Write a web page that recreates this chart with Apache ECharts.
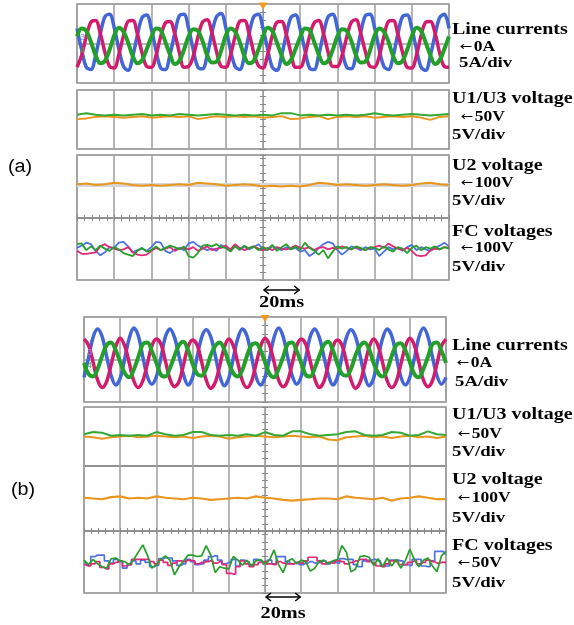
<!DOCTYPE html>
<html><head><meta charset="utf-8">
<script src="https://cdn.jsdelivr.net/npm/echarts@6/dist/echarts.min.js"></script>
<style>html,body{margin:0;padding:0;background:#fff}#c{width:574px;height:625px}</style>
</head><body><div id="c"></div>
<script>
// ---------- sample times (ms, trigger at 0) ----------
const timeFine = [-100,-97.5,-95,-92.5,-90,-87.5,-85,-82.5,-80,-77.5,-75,-72.5,-70,-67.5,-65,-62.5,-60,-57.5,-55,-52.5,-50,-47.5,-45,-42.5,-40,-37.5,-35,-32.5,-30,-27.5,-25,-22.5,-20,-17.5,-15,-12.5,-10,-7.5,-5,-2.5,0,2.5,5,7.5,10,12.5,15,17.5,20,22.5,25,27.5,30,32.5,35,37.5,40,42.5,45,47.5,50,52.5,55,57.5,60,62.5,65,67.5,70,72.5,75,77.5,80,82.5,85,87.5,90,92.5,95,97.5,100];
const timeCoarse = [-100,-95,-90,-85,-80,-75,-70,-65,-60,-55,-50,-45,-40,-35,-30,-25,-20,-15,-10,-5,0,5,10,15,20,25,30,35,40,45,50,55,60,65,70,75,80,85,90,95,100];

// ---------- (a) line currents, A ----------
const iaBlue = [1.9,-0.8,-3.0,-3.3,-1.5,1.2,3.4,3.7, 2.0,-0.7,-2.9,-3.4,-1.6,1.1,3.3,3.6, 1.8,-0.9,-3.1,-3.3,-1.4,1.2,3.5,3.7, 1.9,-0.8,-3.0,-3.2,-1.5,1.3,3.4,3.8, 2.0,-0.8,-2.9,-3.3,-1.6,1.2,3.4,3.7, 1.9,-0.7,-3.0,-3.4,-1.5,1.1,3.3,3.6, 1.8,-0.8,-3.1,-3.3,-1.4,1.2,3.4,3.7, 1.9,-0.9,-3.0,-3.2,-1.5,1.3,3.5,3.7, 2.0,-0.8,-2.9,-3.3,-1.6,1.2,3.4,3.6, 1.9,-0.7,-3.0,-3.4,-1.5,1.1,3.3,3.7, 1.9];
const iaMagenta = [-3.0,-1.5,0.9,2.7,2.9,1.3,-1.1,-2.9, -3.1,-1.4,1.0,2.8,2.9,1.2,-1.2,-2.9, -3.0,-1.5,0.9,2.6,2.8,1.3,-1.1,-3.0, -2.9,-1.6,0.8,2.7,3.0,1.4,-1.0,-2.9, -3.0,-1.5,0.9,2.8,2.9,1.3,-1.1,-2.8, -3.1,-1.4,1.0,2.7,2.8,1.2,-1.2,-3.0, -3.0,-1.5,0.9,2.6,2.9,1.3,-1.1,-2.9, -2.9,-1.5,0.8,2.7,3.0,1.3,-1.0,-2.9, -3.0,-1.6,0.9,2.8,2.9,1.2,-1.1,-3.0, -3.1,-1.5,1.0,2.7,2.8,1.3,-1.2,-2.9, -3.0];
const iaGreen = [0.9,1.9,1.6,0.2,-1.5,-2.5,-2.2,-0.8, 1.0,2.0,1.5,0.1,-1.6,-2.5,-2.1,-0.7, 0.8,1.9,1.7,0.2,-1.4,-2.6,-2.2,-0.8, 0.9,1.8,1.6,0.3,-1.5,-2.4,-2.3,-0.9, 1.0,1.9,1.5,0.2,-1.6,-2.5,-2.2,-0.8, 0.9,2.0,1.6,0.1,-1.5,-2.6,-2.1,-0.7, 0.8,1.9,1.7,0.2,-1.4,-2.5,-2.2,-0.8, 0.9,1.8,1.6,0.3,-1.5,-2.4,-2.3,-0.9, 1.0,1.9,1.5,0.2,-1.6,-2.5,-2.2,-0.8, 0.9,2.0,1.6,0.1,-1.5,-2.6,-2.1,-0.7, 0.9];

// ---------- (a) voltages, V ----------
const u1a = [49.7,49.8,50.0,50.1,50.0,49.9,50.0,50.1,49.9,50.0,50.1,50.0,50.1,49.7,49.9,50.1,50.0,50.1,50.0,50.1,49.9,50.0,50.1,49.7,49.8,50.0,50.1,49.7,50.0,50.1,50.0,50.1,49.9,50.0,50.1,50.0,50.1,49.9,49.6,50.0,50.1];
const u3a = [50.3,50.5,50.3,50.2,50.3,50.2,50.3,50.4,50.2,50.3,50.2,50.4,50.3,50.2,50.3,50.4,50.3,50.2,50.3,50.2,50.3,50.2,50.5,50.5,50.2,50.3,50.2,50.3,50.2,50.3,50.2,50.3,50.5,50.3,50.2,50.3,50.4,50.3,50.2,50.3,50.4];
const u2a = [100.1,100.2,100.0,100.1,100.3,100.2,100.0,99.9,100.0,99.9,100.0,100.1,100.0,100.3,100.2,100.1,99.9,100.0,100.1,100.0,99.8,99.9,99.8,99.9,99.8,100.0,100.3,100.2,100.0,100.1,100.0,99.9,100.0,100.1,100.0,99.9,100.0,100.2,100.3,100.1,100.0];
const u2aRef = 100;
const fcaBlue = [100.1,100.4,100.8,100.6,99.7,99.1,99.5,100.2,100.1,100.8,100.9,100.3,99.5,99.8,100.0,99.7,100.2,100.9,100.8,99.7,99.4,99.9,100.1,99.8,100.7,100.9,100.4,100.1,99.8,100.0,99.7,100.5,100.1,99.7,100.4,99.8,100.3,99.9,100.2,100.6,100.0,99.8,100.3,100.1,99.8,100.2,99.9,100.1,99.6,99.8,99.0,99.4,100.1,100.6,100.9,100.7,99.8,99.2,99.7,100.3,100.1,99.8,100.2,99.9,100.0,99.0,99.6,100.2,99.9,100.1,99.7,100.2,100.5,99.8,100.2,99.9,99.7,100.1,100.4,100.8,100.3];
const fcaMagenta = [99.7,99.3,99.3,99.4,99.5,100.3,100.6,100.2,100.0,99.8,99.9,100.2,99.5,99.2,99.1,99.2,99.7,100.1,99.8,100.0,100.2,99.7,100.0,100.1,99.9,100.2,99.7,100.0,100.3,99.8,100.0,100.1,100.4,99.9,100.6,100.1,99.8,100.1,100.3,100.0,99.8,100.1,99.8,100.2,100.0,99.9,100.1,100.4,100.1,100.0,100.2,99.8,100.1,100.2,99.9,100.1,100.0,100.3,100.1,99.9,100.2,100.0,99.8,100.1,100.2,100.4,100.1,100.7,100.3,100.0,99.8,100.1,99.7,99.1,99.0,99.1,99.8,100.0,99.9,100.2,100.1];
const fcaGreen = [100.6,100.7,99.8,100.3,99.8,100.4,100.0,99.7,100.2,99.9,99.4,99.2,99.0,99.7,100.1,99.6,99.8,100.3,99.8,100.1,100.4,100.2,99.9,100.3,99.0,98.8,99.4,100.4,100.5,100.3,100.6,100.2,100.1,99.6,100.3,99.9,100.4,100.0,100.3,99.8,100.2,99.9,100.5,99.7,100.2,100.6,99.9,100.3,99.8,100.8,100.1,99.7,99.2,99.8,98.7,99.6,100.3,100.0,100.2,99.9,100.3,100.1,99.8,100.2,100.1,99.8,100.3,99.9,99.6,100.2,100.0,99.4,100.1,100.4,99.8,100.2,100.0,100.3,99.9,100.2,100.0];

// ---------- (b) line currents, A ----------
const ibBlue = [-2.1,0.2,2.6,3.6,2.7,0.4,-1.9,-3.0, -2.2,0.1,2.5,3.7,2.8,0.3,-2.0,-2.9, -2.0,0.2,2.7,3.6,2.6,0.4,-1.8,-3.0, -2.1,0.3,2.6,3.5,2.7,0.5,-1.9,-3.1, -2.2,0.2,2.5,3.6,2.8,0.4,-2.0,-3.0, -2.1,0.1,2.6,3.7,2.7,0.3,-1.9,-2.9, -2.0,0.2,2.7,3.6,2.6,0.4,-1.8,-3.0, -2.1,0.3,2.6,3.5,2.7,0.5,-1.9,-3.1, -2.2,0.2,2.5,3.6,2.8,0.4,-2.0,-3.0, -2.1,0.1,2.6,3.7,2.7,0.3,-1.9,-2.9, -2.1];
const ibMagenta = [2.4,1.7,-0.3,-2.4,-3.3,-2.6,-0.6,1.5, 2.5,1.6,-0.4,-2.5,-3.3,-2.5,-0.5,1.6, 2.4,1.8,-0.2,-2.3,-3.2,-2.6,-0.6,1.5, 2.3,1.7,-0.3,-2.4,-3.4,-2.7,-0.7,1.4, 2.4,1.6,-0.4,-2.5,-3.3,-2.6,-0.6,1.5, 2.5,1.7,-0.3,-2.4,-3.2,-2.5,-0.5,1.6, 2.4,1.8,-0.2,-2.3,-3.3,-2.6,-0.6,1.5, 2.3,1.7,-0.3,-2.4,-3.4,-2.7,-0.7,1.4, 2.4,1.6,-0.4,-2.5,-3.3,-2.6,-0.6,1.5, 2.5,1.7,-0.3,-2.4,-3.2,-2.5,-0.5,1.6, 2.4];
const ibGreen = [-0.4,-1.7,-2.0,-1.1,0.4,1.7,2.0,1.1, -0.3,-1.6,-2.1,-1.2,0.3,1.8,2.0,1.0, -0.4,-1.8,-2.0,-1.0,0.4,1.7,2.1,1.1, -0.5,-1.7,-1.9,-1.1,0.5,1.6,2.0,1.2, -0.4,-1.6,-2.0,-1.2,0.4,1.7,1.9,1.1, -0.3,-1.7,-2.1,-1.1,0.3,1.8,2.0,1.0, -0.4,-1.8,-2.0,-1.0,0.4,1.7,2.1,1.1, -0.5,-1.7,-1.9,-1.1,0.5,1.6,2.0,1.2, -0.4,-1.6,-2.0,-1.2,0.4,1.7,1.9,1.1, -0.3,-1.7,-2.1,-1.1,0.3,1.8,2.0,1.0, -0.4];

// ---------- (b) voltages, V ----------
const u1b = [50.0,49.9,49.7,49.9,50.0,50.1,49.9,50.0,50.1,50.0,49.9,50.0,49.8,50.0,50.1,50.0,49.7,49.9,50.0,50.1,50.0,49.9,50.0,50.1,50.0,49.9,50.0,49.6,49.5,49.9,50.0,50.1,49.9,50.0,49.8,50.0,50.1,49.9,50.0,49.8,50.0];
const u3b = [50.3,50.6,50.5,50.1,50.2,50.1,50.2,50.1,50.6,50.3,50.1,50.2,50.6,50.6,50.2,50.1,50.2,50.1,50.3,50.1,50.6,50.2,50.1,50.7,50.7,50.3,50.1,50.2,50.3,50.6,50.7,50.2,50.1,50.2,50.6,50.5,50.1,50.2,50.7,50.3,50.2];
const u2b = [100.1,100.0,99.9,100.2,100.3,100.0,100.1,100.0,100.3,100.1,100.0,99.9,100.1,100.0,99.8,99.9,100.0,100.1,100.0,100.3,100.1,100.0,99.8,99.7,99.8,99.9,100.0,100.0,99.9,100.3,100.1,100.0,99.9,100.1,99.7,100.0,100.1,100.3,100.1,99.9,99.9];
const fcbBlue = [50.0,49.6,50.8,51.0,51.0,50.2,49.9,50.4,50.1,49.2,49.7,50.2,49.8,50.3,50.0,49.4,49.6,50.5,50.6,50.6,50.2,49.6,49.8,50.4,50.1,49.7,49.8,50.3,50.8,50.9,50.3,49.8,50.0,50.4,49.5,50.3,50.1,49.7,50.4,50.2,49.9,50.3,49.8,50.8,50.8,50.1,49.8,50.0,49.7,49.9,50.1,49.9,50.0,50.2,49.8,50.1,49.9,50.5,50.4,50.4,49.7,49.4,50.2,50.3,50.4,50.2,49.5,49.5,50.3,50.3,50.2,49.7,49.6,50.4,50.4,49.5,49.4,50.2,51.5,51.5,51.2];
const fcbMagenta = [49.7,49.5,49.8,50.1,49.3,49.1,49.8,50.0,50.2,49.5,49.7,50.4,50.4,50.4,50.4,50.1,49.8,50.3,50.0,49.6,49.9,50.2,50.1,50.3,50.2,49.8,50.0,50.1,50.2,49.9,50.1,49.7,48.5,48.4,49.4,50.2,49.8,49.4,49.7,50.0,50.1,49.8,49.7,50.1,49.9,49.8,49.8,50.0,49.9,50.2,50.7,50.7,50.2,49.8,50.0,49.9,50.2,50.1,49.8,50.0,50.2,50.4,50.4,50.1,49.9,49.5,49.4,49.8,50.2,50.1,49.7,49.7,50.0,50.2,49.8,50.0,50.3,50.1,49.9,50.0,50.0];
const fcbGreen = [50.3,49.7,50.4,49.8,49.4,49.2,50.5,50.6,50.2,50.1,49.7,50.4,51.4,52.4,51.0,49.2,49.7,50.4,50.9,50.3,48.3,49.4,50.2,51.0,51.0,50.8,50.9,52.3,51.0,48.6,49.4,49.2,49.1,50.8,50.3,49.6,50.3,49.5,50.2,50.4,49.8,50.3,51.7,49.7,48.6,50.2,50.5,49.8,50.3,50.1,48.8,49.2,50.1,50.3,49.8,50.2,50.4,52.3,51.4,48.7,49.1,50.8,50.9,50.7,49.6,50.5,49.4,50.6,49.5,50.4,49.2,50.2,51.8,50.4,49.4,50.3,50.6,49.5,48.7,50.9,51.5];

// ---------- text ----------
const labelsA = ['Line currents','{a|\u2190}0A','5A/div','U1/U3 voltage','{a|\u2190}50V','5V/div','U2 voltage','{a|\u2190}100V','5V/div','FC voltages','{a|\u2190}100V','5V/div'];
const labelsB = ['Line currents','{a|\u2190}0A','5A/div','U1/U3 voltage','{a|\u2190}50V','5V/div','U2 voltage','{a|\u2190}100V','5V/div','FC voltages','{a|\u2190}50V','5V/div'];
const partLabels = ['(a)','(b)'];
const timeDivLabel = '20ms';
const timeDivMs = 20;
const channelTags = ['3','4'];

// ---------- layout ----------
const grids = [
  {left:77, top:4,   width:372, height:79, min:-5,   max:5},     // (a) currents
  {left:77, top:90,  width:372, height:59, min:45.7, max:53.6},  // (a) U1/U3
  {left:77, top:155, width:372, height:63, min:95.6, max:104.0}, // (a) U2
  {left:77, top:218, width:372, height:62, min:95.8, max:104.1}, // (a) FC
  {left:84, top:317, width:362, height:85, min:-5,   max:5},     // (b) currents
  {left:84, top:407, width:362, height:59, min:46.0, max:54.0},  // (b) U1/U3
  {left:84, top:466, width:362, height:65, min:95.5, max:104.5}, // (b) U2
  {left:84, top:531, width:362, height:62, min:45.8, max:54.3}   // (b) FC
];
const C = {blue:'#4266d6', mag:'#d31b6e', green:'#22a02a', fcBlue:'#4f72e2', fcMag:'#e02a78', fcGreen:'#26a02a', orange:'#e9951e', ugreen:'#35a935'};
const gridColor = '#a3a3a3', borderColor = '#8a8a8a', tickColor = '#8a8a8a';

const xAxis = grids.map((g, i) => {
  const isCur = (i === 0 || i === 4);
  const isU2 = (i === 2 || i === 6);
  const isFC = (i === 3 || i === 7);
  return {
    type:'value', gridIndex:i, min:-100, max:100, interval:20,
    position: isFC ? 'top' : 'bottom',
    axisLabel:{show:false},
    axisLine:{show:isCur, onZero:true, lineStyle:{color:gridColor, width:1.5}},
    axisTick:{show:isU2 || isFC, length:3, lineStyle:{color:tickColor, width:1}},
    minorTick:{show:isU2 || isFC, splitNumber:5, length:3, lineStyle:{color:tickColor, width:1}},
    splitLine:{show:true, lineStyle:{color:gridColor, width:1.6}}
  };
});
const yAxis = [];
grids.forEach((g, i) => {
  ['left','right'].forEach((pos, j) => {
    yAxis.push({
      type:'value', gridIndex:i, min:g.min, max:g.max, interval:1,
      position:pos, offset:-g.width/2,
      axisLabel:{show:false},
      axisLine:{show:j === 0, onZero:false, lineStyle:{color:'#9a9a9a', width:1}},
      axisTick:{show:true, length:3, lineStyle:{color:tickColor, width:1}},
      splitLine:{show:false}
    });
  });
});

function pairs(times, vals){ return times.map((t, k) => [t, vals[k]]); }
function line(gi, times, vals, color, width, extra){
  return Object.assign({
    type:'line', xAxisIndex:gi, yAxisIndex:gi*2, data:pairs(times, vals),
    showSymbol:false, symbol:'none', silent:true, animation:false, z:3,
    lineStyle:{color:color, width:width}, itemStyle:{color:color}
  }, extra || {});
}
function trigger(offset){
  return {symbol:'triangle', symbolSize:[9,7], symbolRotate:180, symbolOffset:[0, offset], z:6,
    itemStyle:{color:'#f39a1c'}, label:{show:false}, silent:true, data:[{coord:[0, 5]}]};
}

const series = [
  line(0, timeFine, iaBlue, C.blue, 3.5, {smooth:0.35, markPoint:trigger(2)}),
  line(0, timeFine, iaMagenta, C.mag, 3.5, {smooth:0.35}),
  line(0, timeFine, iaGreen, C.green, 4, {smooth:0.35}),
  line(1, timeCoarse, u1a, C.orange, 2),
  line(1, timeCoarse, u3a, C.ugreen, 2),
  line(2, timeCoarse, u2a, C.orange, 2.2, {markLine:{symbol:'none', silent:true, z:1, label:{show:false},
      lineStyle:{color:'#d6d6d6', width:4, type:'solid'}, data:[{yAxis:u2aRef}]}}),
  line(3, timeFine, fcaBlue, C.fcBlue, 1.8),
  line(3, timeFine, fcaMagenta, C.fcMag, 1.8),
  line(3, timeFine, fcaGreen, C.fcGreen, 1.8),
  line(4, timeFine, ibBlue, C.blue, 3.5, {smooth:0.35, markPoint:trigger(1.5)}),
  line(4, timeFine, ibMagenta, C.mag, 3.5, {smooth:0.35}),
  line(4, timeFine, ibGreen, C.green, 4, {smooth:0.35}),
  line(5, timeCoarse, u1b, C.orange, 2),
  line(5, timeCoarse, u3b, C.ugreen, 2),
  line(6, timeCoarse, u2b, C.orange, 2.2),
  line(7, timeFine, fcbBlue, C.fcBlue, 1.7, {step:'middle'}),
  line(7, timeFine, fcbMagenta, C.fcMag, 1.7, {step:'middle'}),
  line(7, timeFine, fcbGreen, C.fcGreen, 1.7)
];

const option = {
  animation:false, backgroundColor:'#ffffff',
  grid: grids.map(g => ({left:g.left, top:g.top, width:g.width, height:g.height, show:true,
    borderColor:borderColor, borderWidth:1.5, backgroundColor:'rgba(0,0,0,0)'})),
  xAxis: xAxis, yAxis: yAxis, series: series
};

const chart = echarts.init(document.getElementById('c'), null, {renderer:'canvas'});
chart.setOption(option);

// ---------- annotations ----------
const serif = '"Liberation Serif","Times New Roman",serif';
const posA = [[452,30,16],[460,47,14],[459,63,15],[452,99,16],[461,117,14],[452,135,15],[452,166,16],[461,183,14],[452,201,15],[452,232,16],[461,248,14],[452,267,15]];
const posB = [[452,346,16],[457,363,14],[455,382,15],[452,415,16],[458,434,14],[452,452,15],[452,480,16],[458,498,14],[452,518,15],[452,546,16],[458,563,14],[452,583,15]];
const els = [];
function txt(s, x, y, size, opts){
  const o = Object.assign({family:serif, weight:'bold', color:'#000', align:'left', sx:1.25}, opts || {});
  els.push({type:'text', x:x, y:y, scaleX:o.sx, silent:true,
    style:{text:s, fill:o.color, fontSize:size, fontFamily:o.family, fontWeight:o.weight, align:o.align, verticalAlign:'middle',
      rich:{a:{fontFamily:'"DejaVu Sans",sans-serif', fontWeight:'normal', fontSize:Math.round(size*0.85), fill:o.color, padding:[0,1,0,0]}}}});
}
labelsA.forEach((s, k) => txt(s, posA[k][0], posA[k][1], posA[k][2]));
labelsB.forEach((s, k) => txt(s, posB[k][0], posB[k][1], posB[k][2]));
txt(partLabels[0], 8, 167, 18, {family:'"Liberation Sans",Arial,sans-serif', weight:'normal', sx:1.1});
txt(partLabels[1], 11, 490, 18, {family:'"Liberation Sans",Arial,sans-serif', weight:'normal', sx:1.1});

function timeArrow(gi, y, labelY){
  const x0 = chart.convertToPixel({xAxisIndex:gi}, 0);
  const x1 = chart.convertToPixel({xAxisIndex:gi}, timeDivMs);
  const st = {stroke:'#000', lineWidth:1.5, fill:null};
  els.push({type:'line', silent:true, shape:{x1:x0 + 1, y1:y, x2:x1 - 1, y2:y}, style:st});
  els.push({type:'polyline', silent:true, shape:{points:[[x0 + 6, y - 4], [x0 + 1, y], [x0 + 6, y + 4]]}, style:st});
  els.push({type:'polyline', silent:true, shape:{points:[[x1 - 6, y - 4], [x1 - 1, y], [x1 - 6, y + 4]]}, style:st});
  txt(timeDivLabel, (x0 + x1) / 2, labelY, 16, {align:'center', sx:1.27});
}
timeArrow(3, 290, 303);
timeArrow(7, 597, 614);

// scope channel tags at the left edge of the current panels (drawn above the traces)
function tag(gi, s, y, color){
  els.push({type:'text', x:grids[gi].left + 3, y:y, z:100, silent:true,
    style:{text:s, fill:color, fontSize:9, fontFamily:'"Liberation Sans",Arial,sans-serif', align:'left', verticalAlign:'middle'}});
}
tag(0, channelTags[0], 38, '#7f97ee'); tag(0, channelTags[1], 51, '#4fb04f');
tag(4, channelTags[0], 353, '#7f97ee'); tag(4, channelTags[1], 366, '#4fb04f');

chart.setOption({graphic:{elements:els}});
</script>
</body></html>
